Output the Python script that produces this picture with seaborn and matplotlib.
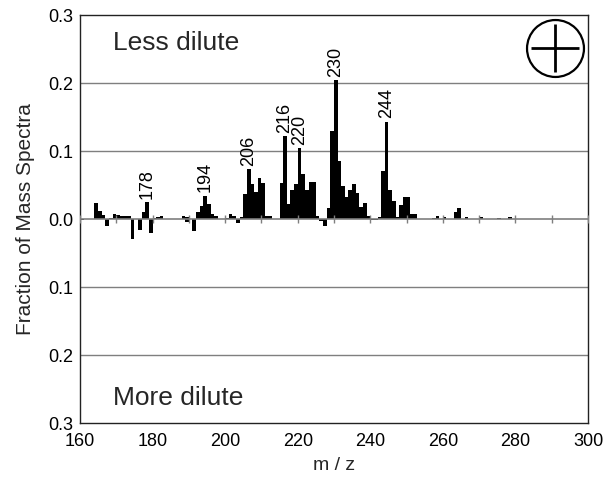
import numpy as np
import pandas as pd
import matplotlib
matplotlib.use("Agg")
import matplotlib.pyplot as plt
import seaborn as sns

# ---- data ----
less_mz = [164, 165, 166, 168, 169, 170, 171, 172, 173, 177, 178, 180, 181, 182,
           188, 189, 192, 193, 194, 195, 196, 197, 200, 201, 202, 204, 205, 206,
           207, 208, 209, 210, 211, 212, 215, 216, 217, 218, 219, 220, 221, 222,
           223, 224, 225, 228, 229, 230, 231, 232, 233, 234, 235, 236, 237, 238,
           239, 242, 243, 244, 245, 246, 247, 248, 249, 250, 251, 252, 257, 258,
           260, 263, 264, 266, 270, 275, 278]
less_val = [0.023, 0.012, 0.006, 0.002, 0.007, 0.006, 0.004, 0.005, 0.005, 0.011,
            0.025, 0.002, 0.003, 0.004, 0.005, 0.003, 0.011, 0.019, 0.034, 0.022,
            0.007, 0.005, 0.002, 0.007, 0.004, 0.003, 0.037, 0.073, 0.052, 0.039,
            0.061, 0.053, 0.005, 0.004, 0.053, 0.122, 0.022, 0.042, 0.051, 0.104,
            0.066, 0.042, 0.055, 0.055, 0.004, 0.016, 0.130, 0.204, 0.085, 0.049,
            0.033, 0.043, 0.052, 0.038, 0.017, 0.023, 0.005, 0.003, 0.070, 0.143,
            0.043, 0.026, 0.003, 0.021, 0.033, 0.033, 0.008, 0.008, 0.002, 0.004,
            0.003, 0.011, 0.016, 0.003, 0.003, 0.001, 0.003]
more_mz = [160, 167, 174, 176, 179, 189, 191, 203, 226, 227, 240, 241]
more_val = [0.002, 0.010, 0.029, 0.016, 0.021, 0.005, 0.017, 0.006, 0.003, 0.010,
            0.002, 0.002]
peak_labels = [178, 194, 206, 216, 220, 230, 244]
x_ticks = [160, 180, 200, 220, 240, 260, 280, 300]
y_ticks = [-0.3, -0.2, -0.1, 0.0, 0.1, 0.2, 0.3]
y_tick_labels = ["0.3", "0.2", "0.1", "0.0", "0.1", "0.2", "0.3"]

# ---- figure ----
sns.set_theme(style="white")
plt.rcParams["font.family"] = ["Liberation Sans", "DejaVu Sans"]

fig = plt.figure(figsize=(6.1, 4.86), dpi=100)
ax = fig.add_axes([0.1311, 0.1296, 0.8328, 0.8395])

df = pd.DataFrame({
    "mz": less_mz + more_mz,
    "value": less_val + [-v for v in more_val],
    "series": ["Less dilute"] * len(less_mz) + ["More dilute"] * len(more_mz),
})
df["pos"] = df["mz"] + 0.5  # bars occupy [m, m+1]

grid_c = "#7f7f7f"
for yv in [-0.2, -0.1, 0.1, 0.2]:
    ax.axhline(yv, color=grid_c, lw=1.0, zorder=0)

sns.barplot(data=df, x="pos", y="value", hue="series",
            palette=["black", "black"], native_scale=True, dodge=False,
            width=1.0, saturation=1, errorbar=None, legend=False,
            linewidth=0, ax=ax, zorder=2)

ax.axhline(0, color=grid_c, lw=1.2, zorder=3)
minor = list(range(160, 301, 10))
ax.plot(minor, [0] * len(minor), ls="none", marker="|", ms=6, mew=1.0,
        color=grid_c, zorder=3)

val_map = dict(zip(less_mz, less_val))
for m in peak_labels:
    ax.text(m + 0.5, val_map[m] + 0.005, str(m), rotation=90, ha="center",
            va="bottom", fontsize=13, color="black", zorder=4)

ax.set_xlim(160, 300)
ax.set_ylim(-0.3, 0.3)
ax.set_xticks(x_ticks)
ax.set_xticklabels([str(t) for t in x_ticks])
ax.set_yticks(y_ticks)
ax.set_yticklabels(y_tick_labels)
ax.tick_params(axis="both", labelsize=13, colors="black", length=4,
               direction="in", width=1)
ax.tick_params(axis="x", pad=7)
ax.tick_params(axis="y", pad=5)
for s in ax.spines.values():
    s.set_color("#222222")
    s.set_linewidth(1.0)
ax.set_xlabel("m / z", fontsize=14, labelpad=5)
ax.set_ylabel("Fraction of Mass Spectra", fontsize=15, labelpad=9)

ax.text(0.065, 0.931, "Less dilute", transform=ax.transAxes, fontsize=19,
        ha="left", va="center")
ax.text(0.065, 0.061, "More dilute", transform=ax.transAxes, fontsize=19,
        ha="left", va="center")

# circled plus symbol
ax.plot([0.935], [0.920], transform=ax.transAxes, marker="o", ms=41,
        mfc="none", mec="black", mew=1.6, clip_on=False)
ax.plot([0.935], [0.920], transform=ax.transAxes, marker="+", ms=34,
        mec="black", mew=2.0, clip_on=False)

fig.savefig("out.png", dpi=100)
